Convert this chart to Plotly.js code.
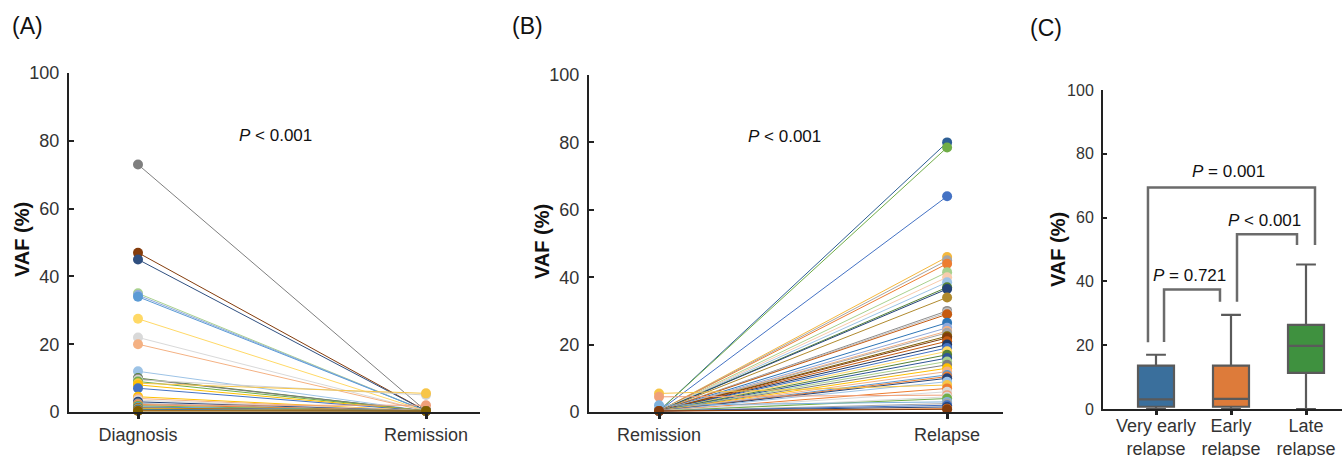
<!DOCTYPE html>
<html>
<head>
<meta charset="utf-8">
<script src="https://cdn.plot.ly/plotly-3.0.1.min.js"></script>
<style>html,body{margin:0;padding:0;background:#fff;}#chart{width:1342px;height:456px;}</style>
</head>
<body>
<div id="chart"></div>
<script>
// ---------- DATA ----------
// Panel A: diagnosis -> remission VAF (%) per patient
const catA = ['Diagnosis', 'Remission'];
const diagA = [73, 47, 45, 35, 34.5, 34, 27.5, 22, 20, 12, 10, 9.8, 9.5, 9, 8.5, 8, 7, 4.5, 4, 3.5, 3, 2.5, 2.2, 2, 1.8, 1.5, 1.2, 1, 0.8, 0.6, 0.5, 0.4, 0.3];
const remA  = [0.3, 0.3, 0.3, 0.3, 0.3, 0.3, 0.3, 0.3, 0.3, 0.3, 0.3, 0.3, 5, 0.3, 5.5, 0.3, 0.3, 0.3, 0.3, 0.3, 0.3, 0.3, 0.3, 2, 0.3, 0.3, 0.3, 0.3, 0.3, 0.3, 0.3, 0.3, 0.3];

// Panel B: remission -> relapse VAF (%) per patient
const catB = ['Remission', 'Relapse'];
const remB = [0.3, 0.3, 0.3, 0.3, 0.3, 0.3, 0.3, 0.3, 0.3, 0.3, 0.3, 0.3, 0.3, 0.3, 0.3, 0.3, 0.3, 0.3, 0.3, 0.3, 0.3, 0.3, 0.3, 0.3, 0.3, 0.3, 0.3, 0.3, 0.3, 0.3, 0.3, 0.3, 0.3, 0.3, 0.3, 5.5, 0.3, 0.3, 4.5, 0.3, 0.3, 2, 0.3, 0.3, 0.3, 0.3, 0.3];
const relB = [80, 78.5, 64, 46, 45, 44, 41.5, 40, 38.5, 37, 36.5, 34, 30, 29.5, 29, 26.5, 25, 24, 23.5, 22.5, 22, 21, 20, 19, 18, 17, 16, 15, 14, 13, 12, 11, 10.5, 10, 9, 8, 7, 6, 5, 4.5, 4, 3, 2.5, 2, 1.5, 1, 0.8];

// Panel C: VAF (%) at relapse by relapse timing (box statistics)
const catC = ['Very early<br>relapse', 'Early<br>relapse', 'Late<br>relapse'];
const q1C  = [0.7, 0.7, 11.3];
const medC = [3.0, 3.2, 19.8];
const q3C  = [13.6, 13.6, 26.4];
const loC  = [0, 0, 0];
const hiC  = [17, 29.5, 45.3];

// Panel C: significance brackets (group index left/right, leg ends and top in VAF %)
const brText   = ['<i>P</i> = 0.001', '<i>P</i> &lt; 0.001', '<i>P</i> = 0.721'];
const brFrom   = [0, 1, 0];
const brTo     = [2, 2, 1];
const brLeftY  = [20.9, 33.6, 21];
const brRightY = [51.4, 51.4, 33.6];
const brTopY   = [69.4, 54.8, 37.5];
const brLabelY = [74.3, 59.2, 41.7];

// ---------- STYLE ----------
const colA = ['#7f7f7f','#843c0c','#2f4f7f','#a9d18e','#8faadc','#5b9bd5','#ffd966','#d9d9d9','#f4b183','#9dc3e6','#548235','#7f7f7f','#d0d0d0','#70ad47','#f7c548','#ffc000','#4472c4','#ffc000','#f4b183','#d9d9d9','#264478','#a5a5a5','#ed7d31','#f0a07a','#70ad47','#5b9bd5','#843c0c','#ffc000','#4472c4','#548235','#2e75b6','#ed7d31','#7f6000'];
const colB = ['#2e5f95','#70ad47','#4472c4','#f5b83d','#a5a5a5','#ed7d31','#a9d18e','#f8cbad','#9dc3e6','#548235','#264478','#b08a2e','#8c8c8c','#bfbfbf','#c55a11','#2e75b6','#8faadc','#f4b183','#a5a5a5','#7f6000','#843c0c','#c55a11','#1f3864','#4472c4','#ffd966','#548235','#2f5597','#a9d18e','#7f7f7f','#ffc000','#f4b183','#5b9bd5','#ed7d31','#264478','#9dc3e6','#f7c548','#ed7d31','#d9d9d9','#f0a07a','#d9d9d9','#70ad47','#7fb2dc','#a5a5a5','#4472c4','#264478','#ed7d31','#843c0c'];
const boxFill = ['#3a6f9c', '#dd7b3a', '#3f913f'];
const boxLine = '#5a5a5a';
const FONT = 'Liberation Sans, Arial, sans-serif';

const traces = [];
diagA.forEach((v, i) => {
  traces.push({
    x: [0, 1], y: [v, remA[i]], xaxis: 'x', yaxis: 'y',
    mode: 'lines+markers', cliponaxis: false, hoverinfo: 'skip',
    line: {color: colA[i % colA.length], width: 1},
    marker: {color: colA[i % colA.length], size: 10}
  });
});
relB.forEach((v, i) => {
  traces.push({
    x: [0, 1], y: [remB[i], v], xaxis: 'x2', yaxis: 'y2',
    mode: 'lines+markers', cliponaxis: false, hoverinfo: 'skip',
    line: {color: colB[i % colB.length], width: 1},
    marker: {color: colB[i % colB.length], size: 10}
  });
});
catC.forEach((c, i) => {
  traces.push({
    type: 'box', x: [i], xaxis: 'x3', yaxis: 'y3',
    q1: [q1C[i]], median: [medC[i]], q3: [q3C[i]],
    lowerfence: [loC[i]], upperfence: [hiC[i]],
    width: 0.48, whiskerwidth: 0.55,
    fillcolor: boxFill[i], line: {color: boxLine, width: 2.2},
    boxpoints: false, hoverinfo: 'skip'
  });
});

const axisCommon = {
  showline: true, linewidth: 2, linecolor: '#222', showgrid: false, zeroline: false,
  tickcolor: '#222', fixedrange: true
};

const shapes = brText.map((t, i) => {
  const x1 = brFrom[i] + (brFrom[i] === 0 && brTo[i] === 1 ? 0.107 : (brFrom[i] === 0 ? -0.107 : 0.08));
  const x2 = brTo[i] - (brTo[i] === 2 && brFrom[i] === 0 ? -0.12 : 0.12 + (brTo[i] === 1 ? 0.027 : 0));
  return {
    type: 'path', xref: 'x3', yref: 'y3',
    path: `M ${x1},${brLeftY[i]} L ${x1},${brTopY[i]} L ${x2},${brTopY[i]} L ${x2},${brRightY[i]}`,
    line: {color: '#6b6b6b', width: 2.5}
  };
});

const annotations = [
  {text: '(A)', xref: 'paper', yref: 'paper', x: 27/1342, y: 1 - 26/456, showarrow: false, font: {size: 23, color: '#111'}, xanchor: 'center', yanchor: 'middle'},
  {text: '(B)', xref: 'paper', yref: 'paper', x: 527/1342, y: 1 - 26/456, showarrow: false, font: {size: 23, color: '#111'}, xanchor: 'center', yanchor: 'middle'},
  {text: '(C)', xref: 'paper', yref: 'paper', x: 1046/1342, y: 1 - 28/456, showarrow: false, font: {size: 23, color: '#111'}, xanchor: 'center', yanchor: 'middle'},
  {text: '<b>VAF (%)</b>', xref: 'paper', yref: 'paper', x: 22/1342, y: 1 - 240/456, textangle: -90, showarrow: false, font: {size: 20, color: '#111'}, xanchor: 'center', yanchor: 'middle'},
  {text: '<b>VAF (%)</b>', xref: 'paper', yref: 'paper', x: 542/1342, y: 1 - 242/456, textangle: -90, showarrow: false, font: {size: 20, color: '#111'}, xanchor: 'center', yanchor: 'middle'},
  {text: '<b>VAF (%)</b>', xref: 'paper', yref: 'paper', x: 1058/1342, y: 1 - 250/456, textangle: -90, showarrow: false, font: {size: 20, color: '#111'}, xanchor: 'center', yanchor: 'middle'},
  {text: '<i>P</i> &lt; 0.001', xref: 'x', yref: 'y', x: 0.476, y: 81.7, showarrow: false, font: {size: 17, color: '#111'}},
  {text: '<i>P</i> &lt; 0.001', xref: 'x2', yref: 'y2', x: 0.434, y: 81.7, showarrow: false, font: {size: 17, color: '#111'}}
];
brText.forEach((t, i) => {
  const cx = [0.96, 1.45, 0.44][i];
  annotations.push({text: t, xref: 'x3', yref: 'y3', x: cx, y: brLabelY[i], showarrow: false, font: {size: 17, color: '#111'}});
});

const layout = {
  width: 1342, height: 456, margin: {l: 0, r: 0, t: 0, b: 0},
  paper_bgcolor: '#fff', plot_bgcolor: 'rgba(0,0,0,0)', showlegend: false,
  font: {family: FONT, color: '#333'},
  xaxis: Object.assign({}, axisCommon, {domain: [69/1342, 480/1342], range: [-0.2396, 1.1875], tickvals: [0, 1], ticktext: catA, ticks: 'outside', ticklen: 5, tickwidth: 3, tickfont: {size: 18, color: '#333'}, anchor: 'y'}),
  yaxis: Object.assign({}, axisCommon, {domain: [44/456, 383/456], range: [0, 100], dtick: 20, ticks: 'inside', ticklen: 5, tickwidth: 2, ticklabelstandoff: 4, tickfont: {size: 18, color: '#333'}, anchor: 'x'}),
  xaxis2: Object.assign({}, axisCommon, {domain: [589/1342, 1003/1342], range: [-0.2431, 1.194], tickvals: [0, 1], ticktext: catB, ticks: 'outside', ticklen: 5, tickwidth: 3, tickfont: {size: 18, color: '#333'}, anchor: 'y2'}),
  yaxis2: Object.assign({}, axisCommon, {domain: [44/456, 381/456], range: [0, 100], dtick: 20, ticks: 'inside', ticklen: 5, tickwidth: 2, ticklabelstandoff: 4, tickfont: {size: 18, color: '#333'}, anchor: 'x2'}),
  xaxis3: Object.assign({}, axisCommon, {domain: [1103/1342, 1], range: [-0.7067, 2.48], tickvals: [0, 1, 2], ticktext: catC, ticks: 'outside', ticklen: 4, tickwidth: 3, ticklabelstandoff: -5, tickfont: {size: 18, color: '#333'}, anchor: 'y3'}),
  yaxis3: Object.assign({}, axisCommon, {domain: [47/456, 366/456], range: [0, 100], dtick: 20, ticks: 'inside', ticklen: 4, tickwidth: 2, ticklabelstandoff: 4, tickfont: {size: 16, color: '#333'}, anchor: 'x3'}),
  shapes: shapes,
  annotations: annotations
};

Plotly.newPlot('chart', traces, layout, {staticPlot: true, displayModeBar: false});
</script>
</body>
</html>
